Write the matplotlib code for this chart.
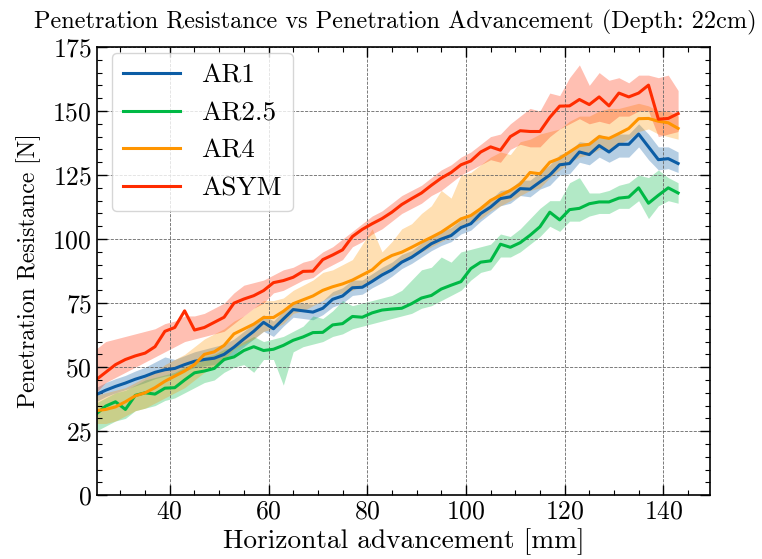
import numpy as np
import matplotlib
matplotlib.use("Agg")
import matplotlib.pyplot as plt

# horizontal advancement [mm]
x = np.arange(25, 145, 2)

# AR1
ar1 = [39.2, 41, 42.5, 43.8, 45.3, 46.5, 48, 49, 49.5, 51,
       52.3, 53, 53.5, 55, 57.8, 61, 64, 67.5, 65, 68.8,
       72.5, 72, 71.5, 73, 76.5, 77.8, 81, 81.2, 83.5, 86,
       88, 91, 92.9, 95.5, 98.2, 100, 101.4, 104.5, 106, 110,
       112.5, 115.8, 116.5, 119.7, 119.5, 122.3, 125, 129, 129.5, 134,
       133, 136.5, 134, 137, 137, 141, 136, 131, 131.4, 129.5]
ar1_lo = [36.5, 38.5, 40, 41.2, 42.7, 44, 45.5, 46.5, 47, 48.5,
          49.8, 50.5, 51, 52.5, 55, 58, 61, 64, 62, 66,
          69.5, 69, 68.5, 70.5, 73.5, 75, 78, 78.5, 81, 83,
          85.5, 88.5, 90.5, 93, 95.5, 97.5, 99, 102, 103.5, 107,
          110, 113, 114, 117, 116.5, 119.5, 121, 125, 125.5, 130,
          129, 132, 130, 132, 132, 136, 131, 127, 127.5, 126]
ar1_hi = [42, 44, 45.5, 46.8, 48.5, 50, 52, 54, 53, 54.5,
          56, 57, 58, 59, 61, 64, 67, 70.5, 68, 72,
          75.5, 75, 74.5, 76, 79.5, 81, 84, 84, 86.5, 89,
          91, 94, 95.5, 98.5, 101, 103, 104.5, 107.5, 109, 113,
          115.5, 119, 119.5, 123, 123, 126, 129, 133, 134, 138,
          137.5, 141, 139, 141, 141, 145, 141, 136, 136, 134]

# AR2.5
ar25 = [31.6, 34.8, 36.5, 33.5, 39, 40, 39.5, 41.8, 42, 45,
        47.8, 48.5, 49.5, 53, 54, 56.5, 58, 56.5, 57, 58.5,
        60.5, 61.8, 63.5, 63.6, 66.5, 67, 69.8, 69.5, 71.2, 72.3,
        72.7, 73, 74.8, 77, 78, 80.5, 82, 83.4, 88.5, 91,
        91.5, 98, 96.8, 98.6, 101.5, 104.8, 110.5, 107.5, 111.5, 112,
        113.8, 114.5, 114.5, 116, 116.4, 120, 114, 117.1, 120, 118]
ar25_lo = [25, 27, 29, 30, 33, 34, 35, 37, 38, 40,
           42, 44, 45, 48, 50, 51, 48, 53, 53, 43,
           56, 58, 59, 60, 62, 63, 65, 66, 67, 68,
           69, 70, 71, 73, 74, 76, 78, 80, 84, 87,
           88, 93, 93, 95, 98, 101, 105, 103, 107, 107,
           109, 110, 110, 112, 112, 115, 108, 113, 115, 114]
ar25_hi = [36, 38, 40, 41, 43, 45, 46, 47, 48, 50,
           52, 54, 55, 57, 58, 60, 62, 60, 61, 62,
           64, 66, 70, 69, 72, 76, 74, 75, 76, 77,
           78, 80, 84, 88, 89, 93, 91, 95, 96, 97,
           98, 102, 101, 104, 108, 112, 115, 115, 122, 124,
           118, 118, 119, 121, 122, 125, 124, 127, 124, 122]

# AR4
ar4 = [33, 33.5, 34.5, 36.5, 38.8, 40, 42, 44.5, 46.5, 48.5,
       51, 55, 56, 58.5, 63, 64.9, 66.8, 69.4, 69.4, 71.8,
       74.8, 76.3, 77.8, 80, 81.4, 82.5, 84, 86, 88, 91.5,
       93.6, 94.9, 96.8, 98.8, 100.7, 102.7, 105.3, 107.9, 109.2, 111.9,
       115.1, 117.1, 119, 121.5, 126, 125.5, 130, 131.5, 134, 136.5,
       137, 140, 139.3, 141.2, 143.2, 147, 147.1, 146, 145.4, 143.2]
ar4_lo = [28, 28, 29, 31, 33, 34, 36, 38, 40, 42,
          45, 48, 50, 53, 57, 59, 61, 64, 65, 67,
          71, 72, 74, 76, 78, 79, 80, 82, 84, 87,
          89, 91, 93, 95, 97, 99, 101, 104, 106, 108,
          111, 113, 115, 117, 119, 120, 124, 127, 130, 132,
          133, 135, 135, 137, 139, 142, 143, 141, 140, 139]
ar4_hi = [39, 40, 41, 42, 44, 46, 48, 51, 53, 55,
          58, 61, 63, 65, 68, 70, 73, 76, 76, 77,
          80, 82, 84, 87, 88, 90, 92, 98, 104, 95,
          99, 104, 106, 110, 113, 119, 116, 125, 126, 129,
          132, 134, 133, 138, 139, 141, 142, 143, 146, 148,
          148, 150, 151, 151, 152, 153, 152, 150, 150, 148]

# ASYM
asym = [45, 48, 51, 53, 54.4, 55.5, 58, 64, 65.5, 72,
        64.5, 65.5, 67.5, 69.5, 75, 76.6, 77.9, 79.9, 83, 83.8,
        85.1, 87.4, 87.5, 92, 93.8, 95.8, 101, 103.8, 106, 108,
        110.5, 113.5, 115.8, 118, 121, 123.8, 126, 129, 130.5, 134,
        136, 134.7, 140, 142.3, 142, 142, 147.5, 151.9, 152, 154.5,
        152.5, 155.5, 152, 157, 155.5, 157, 160.1, 146.8, 147.1, 149]
asym_lo = [40, 44, 46, 48, 50, 52, 54, 56, 58, 60,
           61, 62, 63, 64, 67, 70, 73, 75, 79, 80,
           82, 84, 85, 88, 90, 92, 97, 99, 102, 104,
           107, 110, 112, 114, 117, 119, 122, 125, 127, 129,
           131, 130, 135, 137, 136, 136, 140, 143, 145, 147,
           145, 146, 145, 148, 148, 150, 150, 140, 141, 142]
asym_hi = [57, 60, 61, 62, 63, 64, 65, 67, 68, 70,
           70, 71, 73, 75, 79, 82, 83, 84, 86, 88,
           89, 91, 92, 95, 97, 100, 103, 106, 109, 111,
           114, 117, 119, 121, 124, 127, 129, 132, 134, 137,
           140, 141, 145, 148, 151, 150, 157, 156, 163, 168,
           160, 165, 162, 163, 161, 164, 164, 163, 164, 158]

names = ['AR1', 'AR2.5', 'AR4', 'ASYM']
colors = ['#0C5DA5', '#00B945', '#FF9500', '#FF2C00']
means = [ar1, ar25, ar4, asym]
lows = [ar1_lo, ar25_lo, ar4_lo, asym_lo]
highs = [ar1_hi, ar25_hi, ar4_hi, asym_hi]

plt.rcParams['font.family'] = ['cmr10', 'DejaVu Serif']
plt.rcParams['mathtext.fontset'] = 'cm'
plt.rcParams['axes.unicode_minus'] = False
plt.rcParams['axes.formatter.use_mathtext'] = True

fig = plt.figure(figsize=(7.62, 5.59), dpi=100)
ax = fig.add_axes([0.127, 0.114, 0.805, 0.802])

for name, c, m, lo, hi in zip(names, colors, means, lows, highs):
    ax.fill_between(x, lo, hi, color=c, alpha=0.3, lw=0)
    ax.plot(x, m, color=c, lw=2.2, label=name)

ax.set_xlim(25.2, 149.5)
ax.set_ylim(0, 175)
ax.set_xticks([40, 60, 80, 100, 120, 140])
ax.set_yticks(np.arange(0, 176, 25))
ax.minorticks_on()
ax.tick_params(which='both', direction='in', top=True, right=True, labelsize=18.5)
ax.tick_params(which='major', length=7, width=1)
ax.tick_params(which='minor', length=3.5, width=0.8)
for s in ax.spines.values():
    s.set_linewidth(1.2)
ax.grid(True, which='major', ls='--', lw=0.6, color='#666666')

ax.set_xlabel('Horizontal advancement [mm]', fontsize=19.7, labelpad=3)
ax.set_ylabel('Penetration Resistance [N]', fontsize=17, labelpad=8)
ax.set_title('Penetration Resistance vs Penetration Advancement (Depth: 22cm)',
             fontsize=17.5, pad=13, x=0.486)
ax.legend(loc='upper left', bbox_to_anchor=(0.0245, 0.9866), borderaxespad=0,
          fontsize=19.5, frameon=True, fancybox=True, handlelength=2.1)

fig.savefig('out.png', dpi=100)
